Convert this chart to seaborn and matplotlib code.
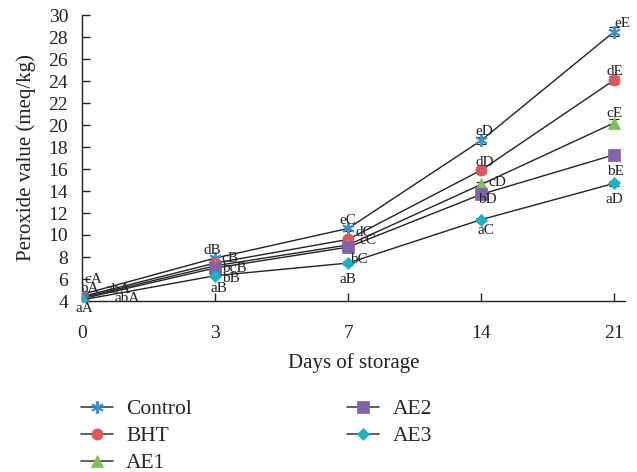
import matplotlib
matplotlib.use("Agg")
import matplotlib.pyplot as plt
import seaborn as sns
import numpy as np
import pandas as pd
from matplotlib.lines import Line2D

days = ["0", "3", "7", "14", "21"]
series = ["Control", "BHT", "AE1", "AE2", "AE3"]
control = [4.6, 7.9, 10.6, 18.6, 28.5]
bht = [4.4, 7.45, 9.6, 15.9, 24.1]
ae1 = [4.3, 7.2, 9.1, 14.6, 20.2]
ae2 = [4.2, 7.0, 8.9, 13.7, 17.3]
ae3 = [4.1, 6.3, 7.45, 11.4, 14.7]
err_control = [0.15, 0.2, 0.2, 0.35, 0.45]
err_bht = [0.1, 0.15, 0.2, 0.25, 0.4]
err_ae1 = [0.1, 0.15, 0.15, 0.25, 0.35]
err_ae2 = [0.1, 0.1, 0.15, 0.2, 0.2]
err_ae3 = [0.1, 0.1, 0.15, 0.15, 0.2]

lab_control = ["cA", "dB", "eC", "eD", "eE"]
lab_bht = ["bA", "cB", "dC", "dD", "dE"]
lab_ae1 = ["abA", "bcB", "cC", "cD", "cE"]
lab_ae2 = ["abA", "bB", "bC", "bD", "bE"]
lab_ae3 = ["aA", "aB", "aB", "aC", "aD"]

values = [control, bht, ae1, ae2, ae3]
errors = [err_control, err_bht, err_ae1, err_ae2, err_ae3]
labels = [lab_control, lab_bht, lab_ae1, lab_ae2, lab_ae3]

# label offsets in pixels (dx, dy)
offsets = [
    [(11, 15), (-3, 8), (0, 8), (3, 9), (8, 8)],
    [(7, 8), (15, 5), (16, 7), (3, 8), (1, 8)],
    [(36, 8), (19, -3), (20, 4), (16, 2), (0, 9)],
    [(45, 0), (16, -11), (11, -12), (6, -5), (1, -17)],
    [(2, -9), (4, -13), (0, -16), (5, -11), (0, -16)],
]

colors = ["#3a8fd6", "#e05555", "#7cc05c", "#8262aa", "#14b4c8"]
markers = [(6, 2, 0), "o", "^", "s", "D"]
msizes = [9, 8, 8, 8, 6.5]

sns.set_style("ticks")
plt.rcParams["font.family"] = ["Liberation Serif", "DejaVu Serif"]

fig = plt.figure(figsize=(6.37, 4.72), dpi=100)
ax = fig.add_axes([82 / 637, 1 - 301 / 472, (625 - 82) / 637, (301 - 15) / 472])

pos = np.arange(len(days))
for name, vals, errs, col, mk, ms in zip(series, values, errors, colors, markers, msizes):
    df = pd.DataFrame({"x": pos, "y": vals})
    ax.errorbar(pos, vals, yerr=errs, fmt="none", ecolor="#222222",
                elinewidth=0.8, capsize=3.5, capthick=0.8, zorder=2)
    sns.lineplot(data=df, x="x", y="y", ax=ax, color="#222222", linewidth=1.0,
                 marker=mk, markersize=ms, markerfacecolor=col,
                 markeredgecolor=col, markeredgewidth=1.4 if name == "Control" else 0.5,
                 zorder=3, legend=False)

px2pt = 72 / 100
for vals, labs, offs in zip(values, labels, offsets):
    for i, (v, t, (dx, dy)) in enumerate(zip(vals, labs, offs)):
        ax.annotate(t, (pos[i], v), xytext=(dx * px2pt, dy * px2pt),
                    textcoords="offset points", ha="center", va="center",
                    fontsize=11, color="#222222", annotation_clip=False, zorder=5)

ax.set_xlim(0, 4.08)
ax.set_ylim(4, 30)
ax.set_xticks(pos)
ax.set_xticklabels(days)
ax.set_yticks(np.arange(4, 31, 2))
ax.tick_params(direction="in", length=6, width=1, labelsize=14, colors="#222222")
ax.tick_params(axis="y", pad=10)
ax.tick_params(axis="x", pad=17)
for s in ["top", "right"]:
    ax.spines[s].set_visible(False)
for s in ["left", "bottom"]:
    ax.spines[s].set_linewidth(1.0)
    ax.spines[s].set_color("#222222")
ax.set_xlabel("Days of storage", fontsize=15, color="#222222", labelpad=8)
ax.set_ylabel("Peroxide value (meq/kg)", fontsize=15, color="#222222", labelpad=9)

handles = [Line2D([0], [0], color="#444444", lw=1.2, marker=mk, markersize=ms,
                  markerfacecolor=col, markeredgecolor=col,
                  markeredgewidth=1.4 if n == "Control" else 0.5)
           for n, col, mk, ms in zip(series, colors, markers, msizes)]
fig.legend(handles, series, loc="upper left", bbox_to_anchor=(81 / 637, 1 - 399 / 472),
           ncol=2, frameon=False, fontsize=15.5, borderaxespad=0, borderpad=0,
           handlelength=1.5, handletextpad=0.6, columnspacing=7.2, labelspacing=0.33)

fig.savefig("out.png", dpi=100)
